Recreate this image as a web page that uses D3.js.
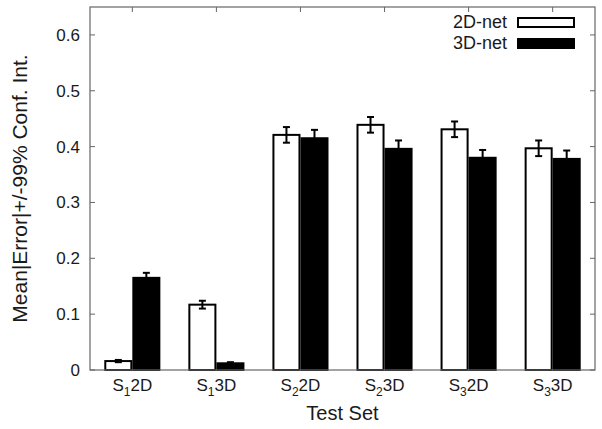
<!DOCTYPE html>
<html><head><meta charset="utf-8">
<script src="https://cdn.jsdelivr.net/npm/d3@7"></script>
<style>body{margin:0;background:#fff}text{font-family:"Liberation Sans",Arial,sans-serif;fill:#1a1a1a}</style>
</head><body><svg id="c" width="602" height="429"></svg>
<script>
const categories = [["S","1","2D"],["S","1","3D"],["S","2","2D"],["S","2","3D"],["S","3","2D"],["S","3","3D"]];
const seriesNames = ["2D-net","3D-net"];
const net2D = [0.016,0.117,0.421,0.439,0.431,0.397];
const net2DErr = [0.002,0.007,0.014,0.014,0.014,0.014];
const net3D = [0.165,0.012,0.415,0.396,0.380,0.378];
const net3DErr = [0.009,0.002,0.015,0.015,0.014,0.015];
const yTicks = [0,0.1,0.2,0.3,0.4,0.5,0.6];
const yTickLabels = ["0","0.1","0.2","0.3","0.4","0.5","0.6"];

const svg = d3.select("#c");
const L=90,R=595,T=7,B=370;
const x = d3.scaleBand().domain(d3.range(categories.length)).range([L,R]).paddingInner(0.333).paddingOuter(0.17);
const y = d3.scaleLinear().domain([0,0.65]).range([B,T]);
const bw = x.bandwidth()/2;

const data = [];
categories.forEach((c,i)=>{
  data.push({i,s:0,v:net2D[i],e:net2DErr[i]});
  data.push({i,s:1,v:net3D[i],e:net3DErr[i]});
});
const cx = i => x(i)+x.bandwidth()/2;

// ticks (inside)
const g = svg.append("g");
yTicks.forEach(t=>{
  g.append("line").attr("x1",L).attr("x2",L+5).attr("y1",y(t)).attr("y2",y(t)).attr("stroke","#666");
  g.append("line").attr("x1",R).attr("x2",R-5).attr("y1",y(t)).attr("y2",y(t)).attr("stroke","#666");
});
categories.forEach((c,i)=>{
  g.append("line").attr("x1",cx(i)).attr("x2",cx(i)).attr("y1",T).attr("y2",T+5).attr("stroke","#666");
});

// bars
svg.append("g").selectAll("rect").data(data).join("rect")
  .attr("x",d=>cx(d.i)-bw+d.s*bw+1).attr("width",bw-2)
  .attr("y",d=>y(d.v)).attr("height",d=>y(0)-y(d.v))
  .attr("fill",d=>d.s?"#000":"#fff").attr("stroke","#000").attr("stroke-width",2);

// error bars
const eg = svg.append("g").attr("stroke","#000").attr("stroke-width",2);
data.forEach(d=>{
  const xc = cx(d.i)-bw/2+d.s*bw;
  eg.append("line").attr("x1",xc).attr("x2",xc).attr("y1",y(d.v-d.e)).attr("y2",y(d.v+d.e));
  eg.append("line").attr("x1",xc-3.5).attr("x2",xc+3.5).attr("y1",y(d.v-d.e)).attr("y2",y(d.v-d.e));
  eg.append("line").attr("x1",xc-3.5).attr("x2",xc+3.5).attr("y1",y(d.v+d.e)).attr("y2",y(d.v+d.e));
});

// frame
svg.append("rect").attr("x",L).attr("y",T).attr("width",R-L).attr("height",B-T)
  .attr("fill","none").attr("stroke","#666").attr("stroke-width",1.2);

// y tick labels
yTicks.forEach((t,k)=>{
  svg.append("text").attr("x",80).attr("y",y(t)+6).attr("text-anchor","end")
    .attr("font-size",17).text(yTickLabels[k]);
});
// x tick labels
categories.forEach((c,i)=>{
  const t = svg.append("text").attr("x",cx(i)).attr("y",391).attr("text-anchor","middle").attr("font-size",17);
  t.append("tspan").text(c[0]);
  t.append("tspan").attr("font-size",12).attr("dy",5).text(c[1]);
  t.append("tspan").attr("dy",-5).text(c[2]);
});
svg.append("text").attr("x",(L+R)/2).attr("y",420).attr("text-anchor","middle").attr("font-size",20).text("Test Set");
svg.append("text").attr("transform",`translate(27,${(T+B)/2}) rotate(-90)`).attr("text-anchor","middle")
  .attr("font-size",21).text("Mean|Error|+/-99% Conf. Int.");

// legend
seriesNames.forEach((n,k)=>{
  const yy = 18 + k*21;
  svg.append("text").attr("x",507).attr("y",yy+10).attr("text-anchor","end").attr("font-size",18).text(n);
  svg.append("rect").attr("x",518).attr("y",yy).attr("width",56).attr("height",9)
    .attr("fill",k?"#000":"#fff").attr("stroke","#000").attr("stroke-width",2);
});
</script></body></html>
